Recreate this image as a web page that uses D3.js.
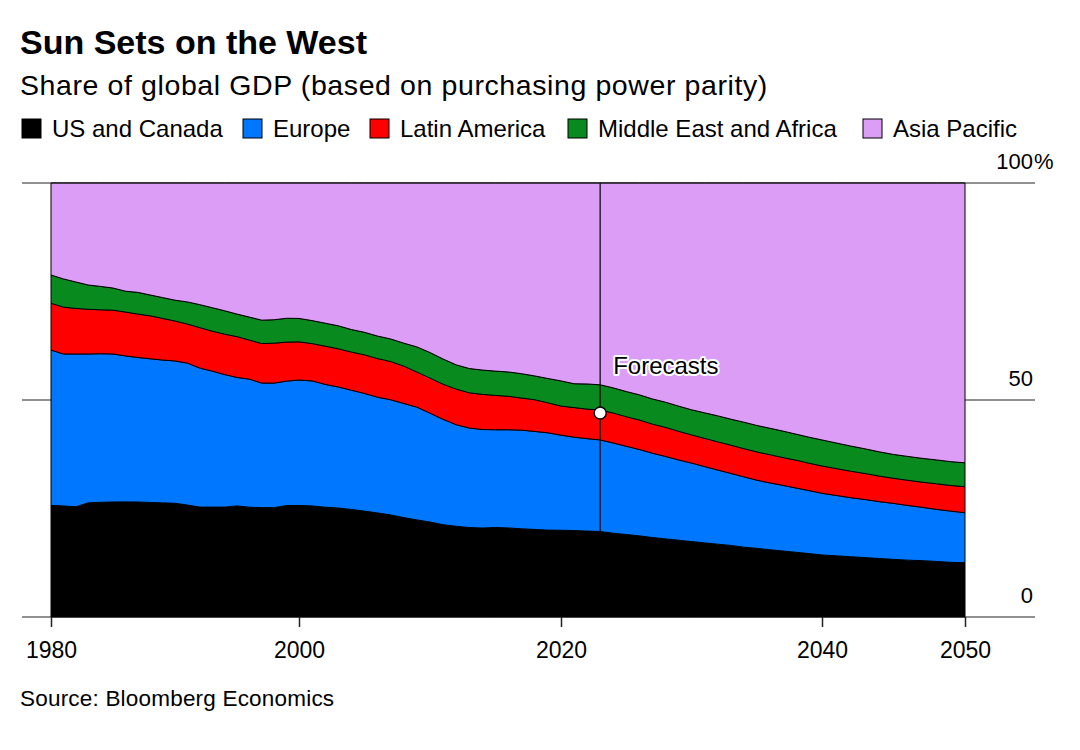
<!DOCTYPE html>
<html>
<head>
<meta charset="utf-8">
<script src="https://cdn.jsdelivr.net/npm/d3@7"></script>
<style>
  html, body { margin: 0; padding: 0; background: #fff; }
  svg { display: block; font-family: "Liberation Sans", Arial, Helvetica, sans-serif; }
</style>
</head>
<body>
<svg id="chart" width="1080" height="750"></svg>
<script>
// ---------- DATA ----------
const years = d3.range(1980, 2051);
const seriesNames = ["US and Canada", "Europe", "Latin America", "Middle East and Africa", "Asia Pacific"];
const seriesColors = ["#000000", "#0077ff", "#ff0000", "#098a1e", "#dc9df7"];

const usCanada = [25.7,25.6,25.4,26.3,26.4,26.5,26.5,26.5,26.4,26.3, 26.2,25.8,25.3,25.3,25.3,25.6,25.3,25.2,25.2,25.7,
  25.7,25.6,25.3,25.1,24.8,24.4,24.0,23.5,22.9,22.4, 21.9,21.3,20.9,20.6,20.5,20.6,20.5,20.3,20.2,20.0,
  20.0,19.9,19.8,19.7,19.3,19.0,18.7,18.3,18.0,17.7, 17.4,17.1,16.8,16.5,16.1,15.8,15.5,15.2,14.9,14.6,
  14.3,14.1,13.9,13.7,13.5,13.3,13.1,13.0,12.8,12.6, 12.5];
const europe = [35.8,35.0,35.2,34.3,34.2,34.1,33.6,33.3,33.1,32.9, 32.8,32.7,32.0,31.3,30.5,29.6,29.5,28.7,28.7,28.7,
  28.9,28.8,28.3,27.9,27.5,27.1,26.7,26.5,26.3,26.0, 25.1,24.3,23.4,22.9,22.7,22.5,22.6,22.7,22.6,22.4,
  21.9,21.5,21.3,21.1,20.8,20.3,19.9,19.4,19.0,18.5, 18.1,17.6,17.1,16.6,16.2,15.7,15.4,15.1,14.8,14.5,
  14.2,13.9,13.6,13.4,13.1,12.9,12.6,12.3,12.0,11.8, 11.5];
const latinAmerica = [10.8,10.8,10.5,10.3,10.1,10.1,10.1,10.0,9.9,9.6, 9.2,9.0,9.3,9.2,9.3,9.4,9.0,9.1,9.2,9.0,
  8.8,8.6,8.8,8.8,8.8,8.9,8.9,8.8,8.6,8.1, 8.1,8.1,8.2,8.1,8.1,7.9,7.7,7.4,7.3,6.9,
  6.7,6.8,6.8,6.9,6.9,6.8,6.8,6.7,6.7,6.6, 6.5,6.5,6.5,6.5,6.5,6.5,6.5,6.4,6.4,6.3,
  6.3,6.2,6.1,6.0,5.9,5.8,5.8,5.8,5.9,5.9, 6.0];
const middleEastAfrica = [6.5,6.5,6.1,5.6,5.4,5.1,4.8,5.0,4.8,4.8, 4.8,5.1,5.3,5.4,5.4,5.2,5.3,5.4,5.4,5.5,
  5.4,5.3,5.3,5.3,5.2,5.2,5.2,5.2,5.3,5.8, 5.9,5.8,5.6,5.6,5.6,5.6,5.6,5.6,5.5,5.6,
  5.8,5.5,5.8,5.8,5.8,5.8,5.8,5.8,5.8,5.8, 5.8,5.9,6.0,6.0,6.1,6.1,6.1,6.1,6.0,6.0,
  6.0,5.9,5.8,5.7,5.6,5.5,5.5,5.5,5.5,5.5, 5.5];
const asiaPacific = [21.2,22.1,22.8,23.5,23.8,24.2,24.9,25.2,25.8,26.4, 27.0,27.4,28.0,28.7,29.4,30.2,30.9,31.6,31.5,31.2,
  31.2,31.7,32.3,32.9,33.8,34.4,35.3,35.9,36.9,37.8, 39.1,40.6,41.9,42.7,43.1,43.3,43.5,43.9,44.5,45.0,
  45.6,46.2,46.3,46.5,47.2,48.0,48.8,49.7,50.5,51.4, 52.3,53.0,53.7,54.4,55.1,55.8,56.5,57.1,57.8,58.5,
  59.2,59.9,60.6,61.3,62.0,62.6,63.0,63.5,63.8,64.2, 64.4];

const xTicks = [1980, 2000, 2020, 2040, 2050];
const xTickPositions = [51, 299, 561, 822, 965];
const yTicks = [0, 50, 100];
const yTickLabels = ["0", "50", "100"];
const forecastYear = 2023;

// ---------- BUILD ----------
const seriesValues = [usCanada, europe, latinAmerica, middleEastAfrica, asiaPacific];
const table = years.map((yr, i) => {
  const row = { year: yr };
  seriesNames.forEach((n, k) => row[n] = seriesValues[k][i]);
  return row;
});

const svg = d3.select("#chart");
const plotLeft = 51, plotRight = 965, plotTop = 183, plotBottom = 617;

const x = d3.scaleLinear().domain(xTicks).range(xTickPositions);
const y = d3.scaleLinear().domain([0, 100]).range([plotBottom, plotTop]);

const stack = d3.stack().keys(seriesNames).offset(d3.stackOffsetExpand);
const layers = stack(table);

// Title, subtitle
svg.append("text").attr("x", 20).attr("y", 54)
  .style("font-size", "34px").style("font-weight", "bold").attr("fill", "#000")
  .text("Sun Sets on the West");
svg.append("text").attr("x", 20).attr("y", 95)
  .style("font-size", "28.5px").style("letter-spacing", "0.6px").attr("fill", "#000")
  .text("Share of global GDP (based on purchasing power parity)");

// Legend
const legendX = [22, 243, 370, 568, 863];
const lg = svg.append("g");
seriesNames.forEach((n, k) => {
  lg.append("rect").attr("x", legendX[k]).attr("y", 119).attr("width", 19).attr("height", 19)
    .attr("fill", seriesColors[k]).attr("stroke", "#000").attr("stroke-width", 1);
  lg.append("text").attr("x", legendX[k] + 30).attr("y", 137)
    .style("font-size", "24px").attr("fill", "#000").text(n);
});

// Gridlines (full width, under areas)
const grid = svg.append("g");
yTicks.forEach(t => {
  grid.append("line").attr("x1", 22).attr("x2", 1035)
    .attr("y1", y(t)).attr("y2", y(t))
    .attr("stroke", "#222").attr("stroke-width", 1.2);
});

// Areas
const area = d3.area()
  .x(d => x(d.data.year))
  .y0(d => y(d[0] * 100))
  .y1(d => y(d[1] * 100));

svg.append("g").selectAll("path").data(layers).join("path")
  .attr("d", area)
  .attr("fill", (d, k) => seriesColors[k])
  .attr("stroke", "#000").attr("stroke-width", 1).attr("stroke-linejoin", "round");

// top line on top of area
svg.append("line").attr("x1", plotLeft).attr("x2", plotRight)
  .attr("y1", y(100)).attr("y2", y(100)).attr("stroke", "#222").attr("stroke-width", 1.2);

// Y labels (right side), numbers right-aligned, % hanging after
yTicks.forEach((t, i) => {
  svg.append("text").attr("x", 1033).attr("y", y(t) - 14)
    .attr("text-anchor", "end").style("font-size", "22px").attr("fill", "#000")
    .text(yTickLabels[i]);
});
svg.append("text").attr("x", 1034).attr("y", y(100) - 14)
  .style("font-size", "22px").attr("fill", "#000").text("%");

// X axis
const xAxis = d3.axisBottom(x).tickValues(xTicks).tickFormat(d3.format("d"))
  .tickSize(10).tickPadding(15);
const gx = svg.append("g").attr("transform", `translate(0,${plotBottom})`).call(xAxis);
gx.select(".domain").remove();
gx.selectAll(".tick line").attr("stroke", "#222").attr("stroke-width", 1.5);
gx.selectAll(".tick text").style("font-size", "23px").attr("fill", "#000")
  .style("font-family", "'Liberation Sans', Arial, sans-serif");

// Forecast line and marker
const fi = years.indexOf(forecastYear);
const fx = x(forecastYear);
svg.append("line").attr("x1", fx).attr("x2", fx)
  .attr("y1", y(100)).attr("y2", y(layers[0][fi][1] * 100))
  .attr("stroke", "#111").attr("stroke-width", 1.3);
svg.append("circle").attr("cx", fx).attr("cy", y(layers[2][fi][1] * 100) + 3)
  .attr("r", 6).attr("fill", "#fff").attr("stroke", "#000").attr("stroke-width", 1.3);

svg.append("text").attr("x", fx + 13).attr("y", 374)
  .style("font-size", "24px").attr("fill", "none").attr("stroke", "#fff")
  .attr("stroke-width", 4).attr("stroke-linejoin", "round").text("Forecasts");
svg.append("text").attr("x", fx + 13).attr("y", 374)
  .style("font-size", "24px").attr("fill", "#000").text("Forecasts");

// Source
svg.append("text").attr("x", 20).attr("y", 706)
  .style("font-size", "22.5px").style("letter-spacing", "0.2px").attr("fill", "#000")
  .text("Source: Bloomberg Economics");
</script>
</body>
</html>
